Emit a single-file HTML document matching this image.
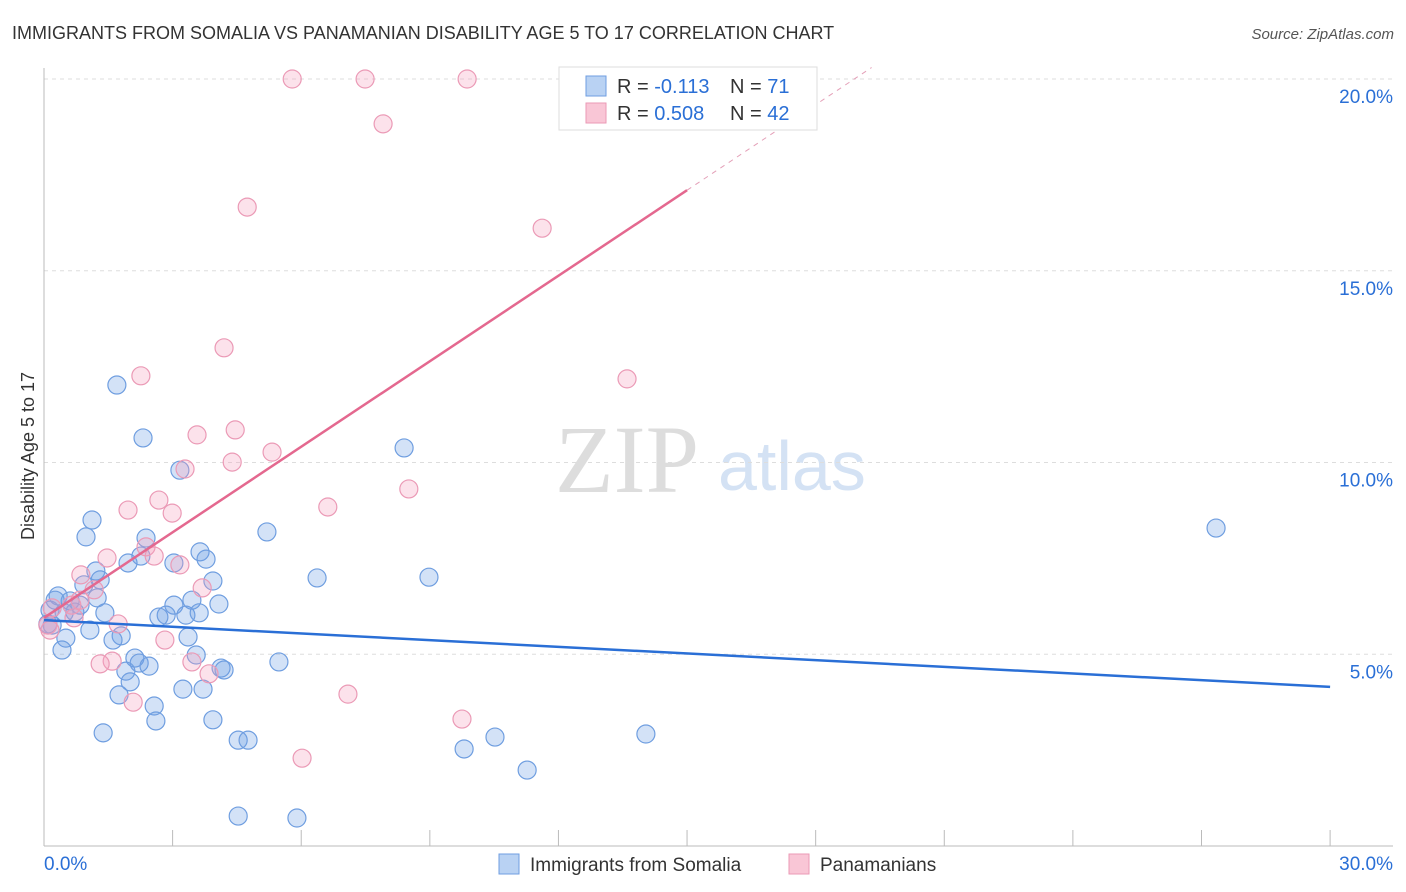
<!DOCTYPE html>
<html><head><meta charset="utf-8"><style>
body{margin:0;background:#fff;font-family:"Liberation Sans",sans-serif;}
#c{position:relative;width:1406px;height:892px;overflow:hidden;}
</style></head><body>
<div id="c">
<svg id="s" width="1406" height="892" xmlns="http://www.w3.org/2000/svg">
<text x="12" y="39" font-size="18" fill="#333">IMMIGRANTS FROM SOMALIA VS PANAMANIAN DISABILITY AGE 5 TO 17 CORRELATION CHART</text>
<text x="1394" y="39" font-size="15" fill="#555" font-style="italic" text-anchor="end">Source: ZipAtlas.com</text>
<text x="34" y="456" font-size="18" fill="#333" text-anchor="middle" transform="rotate(-90 34 456)">Disability Age 5 to 17</text>
<text x="555" y="492" font-size="96" fill="#ddd" font-family="Liberation Serif">ZIP</text>
<text x="718" y="490" font-size="70" fill="#d4e2f4">atlas</text>
<g id="grid"></g><g id="axes"></g><g id="blue"></g><g id="pink"></g><g id="lines"></g>
<g>
<rect x="559" y="67" width="258" height="63" fill="#fff" stroke="#ddd"/>
<rect x="586" y="76" width="20" height="20" fill="#b9d2f3" stroke="#6f9ee0"/>
<rect x="586" y="103" width="20" height="20" fill="#f9c6d6" stroke="#eb9ab6"/>
<text x="617" y="93" font-size="20" fill="#333">R = <tspan fill="#2a6fd6">-0.113</tspan><tspan x="730">N = </tspan><tspan fill="#2a6fd6">71</tspan></text>
<text x="617" y="120" font-size="20" fill="#333">R = <tspan fill="#2a6fd6">0.508</tspan><tspan x="730">N = </tspan><tspan fill="#2a6fd6">42</tspan></text>
</g>
<g>
<rect x="499" y="854" width="20" height="20" fill="#b9d2f3" stroke="#6f9ee0"/>
<text x="530" y="871" font-size="19" fill="#333">Immigrants from Somalia</text>
<rect x="789" y="854" width="20" height="20" fill="#f9c6d6" stroke="#eb9ab6"/>
<text x="820" y="871" font-size="19" fill="#333">Panamanians</text>
</g>
</svg>
<script>
const blueX=[1.70,2.31,3.17,8.40,1.12,0.98,2.38,5.20,1.96,2.26,3.64,3.78,3.03,1.21,1.31,0.93,3.94,6.37,8.98,0.33,0.61,1.24,0.84,3.45,4.08,3.03,1.42,2.85,2.68,3.31,3.62,0.14,0.72,0.47,0.19,1.07,1.80,1.61,3.36,0.51,0.42,2.12,2.22,2.45,3.55,4.13,4.20,5.48,1.91,2.01,1.75,3.24,3.71,2.57,2.61,3.94,1.38,4.53,4.76,9.80,10.52,14.04,11.27,4.53,5.90,27.34,0.09,0.26];
const blueY=[12.02,10.64,9.80,10.38,8.50,8.06,8.03,8.19,7.38,7.56,7.67,7.48,7.38,7.17,6.94,6.81,6.91,6.99,7.01,6.52,6.39,6.47,6.28,6.41,6.31,6.28,6.08,6.02,5.97,6.02,6.08,6.15,6.10,6.08,5.76,5.63,5.48,5.37,5.45,5.42,5.11,4.90,4.77,4.69,4.98,4.64,4.59,4.80,4.56,4.28,3.94,4.09,4.09,3.65,3.26,3.29,2.95,2.76,2.76,2.53,2.84,2.92,1.98,0.78,0.73,8.29,5.79,6.41];
const pinkX=[5.79,7.49,9.87,7.91,4.74,11.62,4.20,13.60,2.26,4.46,3.57,4.39,5.32,3.29,8.51,2.68,2.99,1.96,6.62,2.38,1.47,2.57,3.17,0.86,3.69,1.17,0.65,0.70,0.19,0.09,1.73,2.82,3.45,1.59,1.31,3.85,7.09,2.08,9.75,6.02,0.84,0.14];
const pinkY=[20.0,20.0,20.0,18.83,16.66,16.11,12.99,12.18,12.26,10.85,10.72,10.01,10.27,9.83,9.31,9.02,8.68,8.76,8.84,7.80,7.51,7.56,7.33,7.07,6.73,6.68,6.28,5.95,6.21,5.76,5.79,5.37,4.80,4.82,4.75,4.49,3.96,3.75,3.31,2.29,6.41,5.63];
const yTicks=[5,10,15,20];
const yTickLabels=["5.0%","10.0%","15.0%","20.0%"];
const xTicks=[3,6,9,12,15,18,21,24,27,30];
const blueFit=[5.89,4.15];
const pinkFit=[5.95,17.1];
const NS="http://www.w3.org/2000/svg";
const X=v=>44+v*42.87, Y=v=>846-v*38.35;
function mk(t,a,p){const e=document.createElementNS(NS,t);for(const k in a)e.setAttribute(k,a[k]);document.getElementById(p).appendChild(e);return e;}
yTicks.forEach((t,i)=>{
 const l=mk('line',{x1:44,x2:1393,y1:Y(t),y2:Y(t),stroke:'#ddd','stroke-dasharray':'4,4'},'grid');
 
 
 const tx=mk('text',{x:1393,y:Y(t)+24,'font-size':19,fill:'#2a6fd6','text-anchor':'end'},'grid');
 tx.textContent=yTickLabels[i];
 
 
});
let a=mk('line',{x1:44,x2:44,y1:68,y2:846,stroke:'#bbb'},'axes');


a=mk('line',{x1:44,x2:1393,y1:846,y2:846,stroke:'#bbb'},'axes');


xTicks.forEach(t=>{const l=mk('line',{x1:X(t),x2:X(t),y1:830,y2:846,stroke:'#bbb'},'axes');
 
 });
let t0=mk('text',{x:44,y:870,'font-size':19,fill:'#2a6fd6'},'axes');t0.textContent='0.0%';


let t1=mk('text',{x:1393,y:870,'font-size':19,fill:'#2a6fd6','text-anchor':'end'},'axes');t1.textContent='30.0%';


blueX.forEach((x,i)=>{const c=mk('circle',{cx:X(x),cy:Y(blueY[i]),r:9,fill:'rgba(110,160,230,0.3)',stroke:'#6f9ee0','stroke-width':1.2},'blue');
 
 });
pinkX.forEach((x,i)=>{const c=mk('circle',{cx:X(x),cy:Y(pinkY[i]),r:9,fill:'rgba(245,160,190,0.3)',stroke:'#eb9ab6','stroke-width':1.2},'pink');
 
 });
let bl=mk('line',{x1:X(0),y1:Y(blueFit[0]),x2:X(30),y2:Y(blueFit[1]),stroke:'#2a6fd6','stroke-width':2.5},'lines');


const ps=(pinkFit[1]-pinkFit[0])/15;
let pl=mk('line',{x1:X(0),y1:Y(pinkFit[0]),x2:X(15),y2:Y(pinkFit[1]),stroke:'#e4688f','stroke-width':2.5},'lines');


const xe=(20.3-pinkFit[0])/ps;
let pd=mk('line',{x1:X(15),y1:Y(pinkFit[1]),x2:X(xe),y2:Y(20.3),stroke:'#e4a0b8','stroke-width':1,'stroke-dasharray':'5,5'},'lines');


</script>
</div></body></html>
